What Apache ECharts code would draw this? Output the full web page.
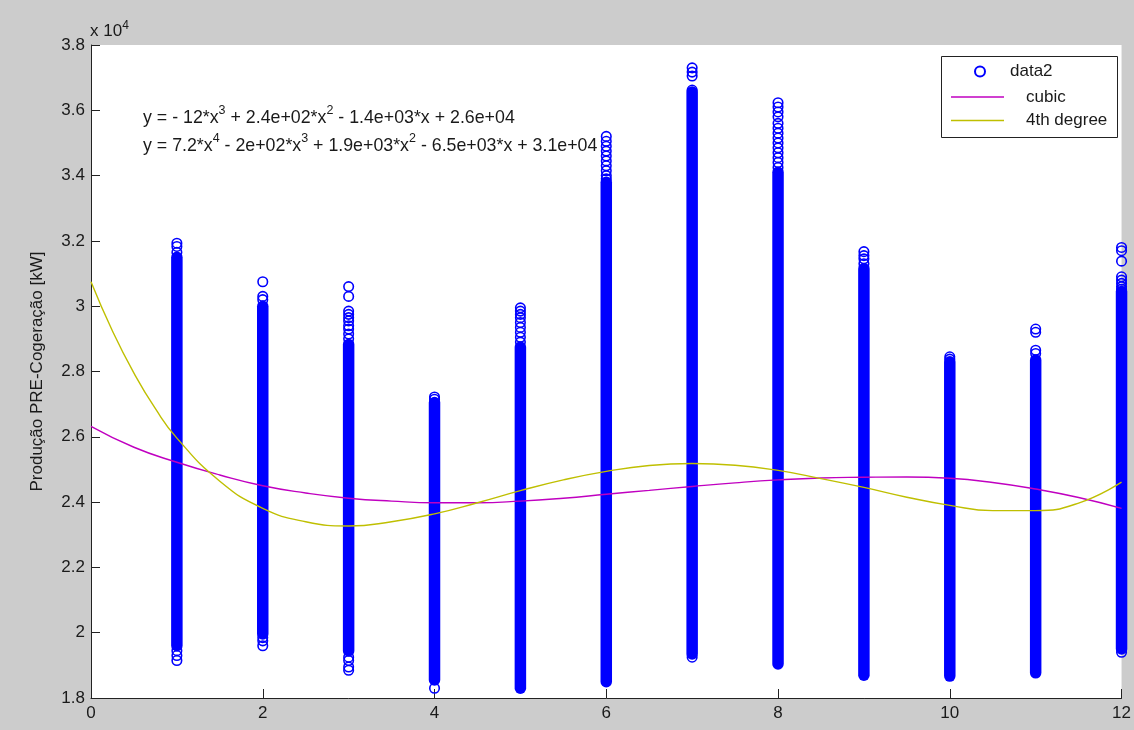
<!DOCTYPE html>
<html>
<head>
<meta charset="utf-8">
<script src="https://cdn.jsdelivr.net/npm/echarts@6/dist/echarts.min.js"></script>
<style>
  html, body { margin: 0; padding: 0; background: #cccccc; }
  #chart { width: 1134px; height: 730px; }
</style>
</head>
<body>
<div id="chart"></div>
<script>
// Months on the x axis
const months = [1, 2, 3, 4, 5, 6, 7, 8, 9, 10, 11, 12];

// Continuous band of hourly readings per month (kW): bottom and top of the packed run
const denseBottom = [19600, 19960, 19440, 18550, 18300, 18500, 19350, 19040, 18700, 18670, 18770, 19500];
const denseTop    = [31500, 30000, 28830, 27050, 28750, 33800, 36560, 34100, 31150, 28300, 28350, 30450];

// Isolated readings above / below the packed run (kW)
const strayHigh = [
  [31930, 31830, 31650],
  [30750, 30300, 30200],
  [30600, 30300, 29850, 29750, 29650, 29550, 29400, 29300, 29150, 29000],
  [27220, 27150],
  [29950, 29850, 29750, 29650, 29500, 29350, 29200, 29050, 28900],
  [35200, 35050, 34900, 34750, 34600, 34450, 34300, 34150, 34000, 33900],
  [37300, 37170, 37050, 36620],
  [36230, 36100, 35950, 35800, 35600, 35450, 35300, 35150, 35000, 34850, 34700, 34550, 34400, 34250],
  [31670, 31550, 31450, 31300],
  [28450, 28380],
  [29300, 29200, 28650, 28550],
  [31800, 31700, 31380, 30900, 30800, 30700, 30600, 30520]
];
const strayLow = [
  [19150, 19300, 19450],
  [19600, 19750, 19850],
  [18850, 18950, 19150, 19250],
  [18300],
  [],
  [],
  [19250],
  [],
  [],
  [],
  [],
  [19400]
];

// Fitted curves sampled along x (kW)
const cubicX = [0, 0.5, 1, 1.5, 2, 2.5, 3, 3.5, 4, 4.5, 5, 5.5, 6, 6.5, 7, 7.5, 8, 8.5, 9, 9.5, 10, 10.5, 11, 11.5, 12];
const cubicY = [26320, 25680, 25220, 24830, 24500, 24280, 24120, 24030, 23980, 23980, 24030, 24120, 24240, 24360, 24480, 24590, 24680, 24740, 24760, 24770, 24730, 24600, 24400, 24140, 23810];
const quartX = [0, 0.25, 0.5, 0.75, 1, 1.5, 2, 2.5, 3, 3.5, 4, 4.5, 5, 5.5, 6, 6.5, 7, 7.5, 8, 8.5, 9, 9.5, 10, 10.5, 11, 11.5, 12];
const quartY = [30750, 29240, 27950, 26860, 25960, 24640, 23810, 23400, 23270, 23400, 23640, 23980, 24350, 24680, 24940, 25120, 25180, 25130, 24970, 24720, 24450, 24150, 23900, 23740, 23740, 23970, 24610];

// Axis ticks
const yMin = 18000, yMax = 38000, yStep = 2000;
const xMin = 0, xMax = 12, xStep = 2;

const FONT = 'Liberation Sans, Arial, sans-serif';
const INK = '#1a1a1a';
const FS = 17;

const denseData = months.map((m, i) => [m, denseBottom[i], denseTop[i]]);
const strayData = [];
months.forEach((m, i) => {
  strayHigh[i].forEach(v => strayData.push([m, v]));
  strayLow[i].forEach(v => strayData.push([m, v]));
});
const cubicData = cubicX.map((x, i) => [x, cubicY[i]]);
const quartData = quartX.map((x, i) => [x, quartY[i]]);

const COL_W = 11.5;

const normalText = { fontSize: FS, color: INK, fontFamily: FONT, fontWeight: 'normal' };
const supText = { fontSize: 12, color: INK, fontFamily: FONT, fontWeight: 'normal', verticalAlign: 'top' };

const chart = echarts.init(document.getElementById('chart'));
chart.setOption({
  backgroundColor: '#cccccc',
  animation: false,
  textStyle: { fontFamily: FONT },
  grid: {
    left: 91, right: 9, top: 45, bottom: 32,
    show: true, backgroundColor: '#ffffff', borderWidth: 0
  },
  title: [
    {
      left: 90, top: 20, padding: 0,
      text: '{n|x 10}{s|4}',
      textStyle: {
        fontWeight: 'normal',
        rich: {
          n: Object.assign({ lineHeight: 22 }, normalText),
          s: Object.assign({ lineHeight: 13 }, supText)
        }
      }
    },
    {
      left: 143, top: 104, padding: 0,
      text: '{n|y = - 12*x}{s|3}{n| + 2.4e+02*x}{s|2}{n| - 1.4e+03*x + 2.6e+04}\n' +
            '{n|y = 7.2*x}{s|4}{n| - 2e+02*x}{s|3}{n| + 1.9e+03*x}{s|2}{n| - 6.5e+03*x + 3.1e+04}',
      textStyle: {
        fontWeight: 'normal',
        rich: {
          n: Object.assign({ lineHeight: 28 }, normalText, { fontSize: 17.8 }),
          s: Object.assign({ lineHeight: 20 }, supText, { fontSize: 12.5 })
        }
      }
    }
  ],
  graphic: [
    {
      type: 'rect', z: 3,
      shape: { x: 941.5, y: 56.5, width: 176, height: 81 },
      style: { fill: '#ffffff', stroke: '#222222', lineWidth: 1 }
    }
  ],
  legend: [
    {
      data: [{ name: 'data2', icon: 'circle' }],
      left: 974, top: 63, itemWidth: 10, itemHeight: 10, padding: 0,
      textStyle: Object.assign({ padding: [0, 0, 0, 20] }, normalText)
    },
    {
      data: [{ name: 'cubic', icon: 'rect' }],
      left: 951, top: 88.5, itemWidth: 53, itemHeight: 1.5, padding: 0,
      textStyle: Object.assign({ padding: [0, 0, 0, 17] }, normalText)
    },
    {
      data: [{ name: '4th degree', icon: 'rect' }],
      left: 951, top: 112, itemWidth: 53, itemHeight: 1.5, padding: 0,
      textStyle: Object.assign({ padding: [0, 0, 0, 17] }, normalText)
    }
  ],
  xAxis: {
    type: 'value', min: xMin, max: xMax, interval: xStep,
    axisLine: { lineStyle: { color: '#222222', width: 1 } },
    axisTick: { inside: true, length: 9, lineStyle: { color: '#222222' } },
    axisLabel: Object.assign({ margin: 7 }, normalText),
    splitLine: { show: false }
  },
  yAxis: {
    type: 'value', min: yMin, max: yMax, interval: yStep,
    name: 'Produção PRE-Cogeração [kW]',
    nameLocation: 'middle', nameRotate: 90, nameGap: 45,
    nameTextStyle: Object.assign({}, normalText),
    axisLine: { show: true, lineStyle: { color: '#222222', width: 1 } },
    axisTick: { show: true, inside: true, length: 9, lineStyle: { color: '#222222' } },
    axisLabel: Object.assign({
      margin: 6,
      formatter: v => String(+(v / 10000).toFixed(1))
    }, normalText),
    splitLine: { show: false }
  },
  series: [
    {
      name: 'data2-band',
      type: 'custom',
      clip: false,
      encode: { x: 0, y: [1, 2] },
      data: denseData,
      renderItem: (params, api) => {
        const x = api.value(0);
        const top = api.coord([x, api.value(2)]);
        const bot = api.coord([x, api.value(1)]);
        return {
          type: 'rect',
          shape: {
            x: top[0] - COL_W / 2, y: top[1] - COL_W / 2,
            width: COL_W, height: bot[1] - top[1] + COL_W, r: COL_W / 2
          },
          style: { fill: '#0000ff' }
        };
      }
    },
    {
      name: 'data2',
      type: 'scatter',
      symbol: 'circle',
      symbolSize: 9.5,
      itemStyle: { color: 'rgba(255,255,255,0)', borderColor: '#0000ff', borderWidth: 1.6, opacity: 1 },
      data: strayData,
      z: 2
    },
    {
      name: 'cubic',
      type: 'line',
      smooth: true,
      symbol: 'none',
      lineStyle: { color: '#c000c0', width: 1.4 },
      itemStyle: { color: '#c000c0' },
      data: cubicData,
      z: 4
    },
    {
      name: '4th degree',
      type: 'line',
      smooth: true,
      symbol: 'none',
      lineStyle: { color: '#bfbf00', width: 1.4 },
      itemStyle: { color: '#bfbf00' },
      data: quartData,
      z: 4
    }
  ]
});
</script>
</body>
</html>
